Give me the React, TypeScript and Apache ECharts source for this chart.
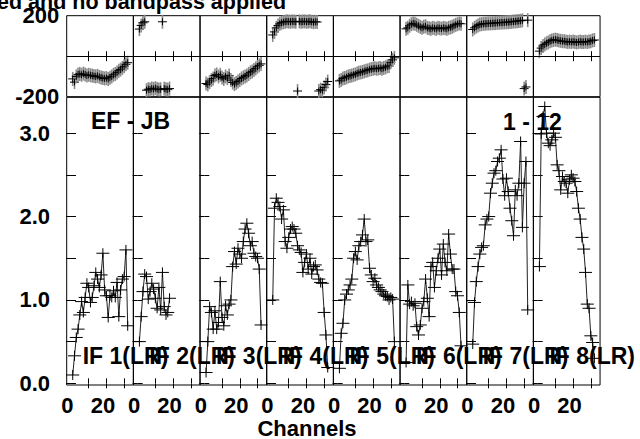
import React, { useEffect, useRef } from 'react';
import * as echarts from 'echarts';

// ---------- data ----------
const channels: number[] = [1, 2, 3, 4, 5, 6, 7, 8, 9, 10, 11, 12, 13, 14, 15, 16, 17, 18, 19, 20, 21, 22, 23, 24, 25, 26, 27, 28, 29, 30, 31, 32];

const ifLabels: string[] = ['IF 1(LR)', 'IF 2(LR)', 'IF 3(LR)', 'IF 4(LR)', 'IF 5(LR)', 'IF 6(LR)', 'IF 7(LR)', 'IF 8(LR)'];

const amp1 = [0.10, 0.33, 0.55, 0.65, 0.82, 0.98, 0.85, 1.03, 1.20, 1.15, 0.97, 1.03, 1.17, 1.33, 1.25, 1.15, 1.30, 1.56, 1.12, 1.05, 0.79, 1.05, 1.03, 1.11, 1.03, 1.21, 0.80, 1.12, 1.25, 1.28, 1.60, 0.69];
const amp2 = [0.50, 0.80, 1.10, 1.31, 1.28, 1.01, 1.10, 1.20, 1.13, 1.02, 0.90, 1.15, 0.88, 1.33, 0.92, 0.82, 0.85, 1.02];
const amp3 = [0.13, 0.50, 0.92, 0.85, 0.65, 0.87, 0.65, 0.73, 1.22, 0.79, 0.69, 0.93, 0.82, 0.95, 1.00, 1.40, 1.58, 1.43, 1.62, 1.55, 1.50, 1.70, 1.85, 1.92, 1.80, 1.65, 1.70, 1.56, 1.52, 1.50, 1.37, 0.70];
const amp4 = [1.00, 2.10, 2.22, 2.17, 2.12, 1.97, 2.08, 1.70, 1.62, 1.75, 1.85, 1.88, 1.85, 1.80, 1.65, 1.60, 1.57, 1.33, 1.45, 1.55, 1.37, 1.50, 1.31, 1.40, 1.42, 1.36, 1.25, 1.21, 1.20, 0.85, 0.58, 0.19];
const amp5 = [0.18, 0.60, 0.72, 1.00, 1.07, 1.12, 1.18, 1.25, 1.50, 1.58, 1.48, 1.65, 1.70, 1.78, 1.97, 1.70, 1.72, 1.38, 1.30, 1.22, 1.26, 1.18, 1.15, 1.12, 1.10, 1.07, 1.05, 1.04, 1.00, 1.03, 1.01, 0.50];
const amp6 = [0.25, 1.18, 0.95, 0.98, 0.93, 0.96, 0.68, 0.58, 0.70, 0.90, 0.98, 1.25, 1.02, 0.80, 1.40, 1.45, 1.15, 1.35, 1.50, 1.61, 1.30, 1.67, 1.45, 1.35, 1.79, 1.55, 1.37, 1.37, 1.10, 1.05, 0.85, 0.45];
const amp7 = [0.47, 0.97, 1.22, 1.40, 1.55, 1.63, 1.65, 1.90, 1.97, 2.00, 2.28, 2.40, 2.52, 2.55, 2.66, 2.70, 2.80, 2.45, 2.25, 2.46, 2.30, 2.10, 1.95, 1.77, 2.32, 2.25, 2.40, 2.90, 1.87, 2.40, 2.66, 0.88];
const amp8 = [1.40, 2.99, 3.20, 3.32, 3.00, 2.88, 2.85, 2.92, 3.00, 2.95, 2.62, 2.55, 2.32, 2.48, 2.42, 2.40, 2.28, 2.44, 2.50, 2.46, 2.42, 2.30, 2.10, 1.97, 1.75, 1.61, 1.33, 0.95, 0.90, 0.57, 0.49, 0.30];

const phase1 = [-112, -128, -100, -90, -88, -92, -86, -90, -95, -92, -94, -96, -98, -100, -97, -102, -105, -108, -110, -108, -112, -106, -100, -92, -88, -80, -72, -66, -58, -50, -40, -32];
const phase2 = [134, 152, 165, 170, -168, -163, -165, -160, -162, -158, -162, -165, -163, 170, -160, -163, -165, -160];
const phase3 = [-135, -140, -128, -118, -110, -95, -90, -100, -92, -105, -112, -100, -108, -95, -118, -130, -138, -132, -125, -118, -110, -105, -100, -95, -88, -80, -75, -68, -60, -52, -45, -38];
const phase4 = [105, 120, 140, 152, 160, 165, 168, 170, 172, 171, 170, 172, 171, 170, -172, 172, 170, 171, 172, 170, 171, 172, 170, 168, 170, 169, -172, -165, -168, -155, -140, -125];
const phase5 = [-122, -118, -110, -108, -104, -100, -98, -95, -92, -90, -85, -82, -80, -78, -75, -72, -70, -66, -64, -62, -60, -62, -60, -58, -62, -58, -55, -50, -48, -30, -18, -8];
const phase6 = [135, 140, 150, 158, 162, 160, 155, 150, 145, 140, 145, 148, 140, 138, 135, 140, 138, 135, 140, 138, 136, 140, 138, 135, 140, 142, 145, 150, 155, 158, 162, 160];
const phase7 = [132, 140, 146, 152, 156, 158, 160, 160, 161, 162, 162, 163, 163, 164, 165, 165, 166, 166, 167, 168, 168, 169, 170, 171, 172, 173, 174, 175, 177, -160, -152, 178];
const phase8 = [25, 40, 50, 58, 64, 68, 74, 78, 80, 82, 80, 78, 76, 74, 74, 72, 70, 72, 70, 72, 70, 68, 70, 72, 70, 70, 72, 70, 72, 74, 78, 80];

const ampSeries: number[][] = [amp1, amp2, amp3, amp4, amp5, amp6, amp7, amp8];
const phaseSeries: number[][] = [phase1, phase2, phase3, phase4, phase5, phase6, phase7, phase8];

const ampTicks = [0, 0.5, 1, 1.5, 2, 2.5, 3];
const ampTickLabels = [0, 1, 2, 3];
const phaseTickLabels = [-200, 200];
const chanTicks = [10, 20, 30];
const chanTickLabels = [0, 20];

const titleText = 'ed and no bandpass applied';
const baselineText = 'EF - JB';
const timeText = '1 - 12';
const xAxisName = 'Channels';

// ---------- layout / style ----------
const FONT = "'Liberation Sans', Arial, Helvetica, sans-serif";
const PANEL_LEFT = 66.7;
const PANEL_W = 66.67;
const AMP_TOP = 97.3;
const AMP_H = 287.7;
const PH_TOP = 15.7;
const PH_H = 81;
const X_MIN = -2.4;
const X_MAX = 35.2;

function ampCross(_params: any, api: any) {
  const p = api.coord([api.value(0), api.value(1)]);
  return {
    type: 'group',
    children: [
      { type: 'line', shape: { x1: p[0] - 6.5, y1: p[1], x2: p[0] + 6.5, y2: p[1] }, style: { stroke: '#000', lineWidth: 1 } },
      { type: 'line', shape: { x1: p[0], y1: p[1] - 5, x2: p[0], y2: p[1] + 5 }, style: { stroke: '#000', lineWidth: 1 } },
    ],
  };
}

function phaseCross(_params: any, api: any) {
  const p = api.coord([api.value(0), api.value(1)]);
  return {
    type: 'group',
    children: [
      { type: 'line', shape: { x1: p[0], y1: p[1] - 7, x2: p[0], y2: p[1] + 7 }, style: { stroke: '#8a8a8a', lineWidth: 1.6 } },
      { type: 'line', shape: { x1: p[0] - 4.5, y1: p[1], x2: p[0] + 4.5, y2: p[1] }, style: { stroke: '#000', lineWidth: 1 } },
      { type: 'line', shape: { x1: p[0], y1: p[1] - 3.5, x2: p[0], y2: p[1] + 3.5 }, style: { stroke: '#000', lineWidth: 1 } },
    ],
  };
}

function buildOption() {
  const grid: any[] = [];
  const xAxis: any[] = [];
  const yAxis: any[] = [];
  const series: any[] = [];
  const labelStyle = { color: '#000', fontFamily: FONT, fontWeight: 'bold', fontSize: 22 };

  for (let g = 0; g < 16; g++) {
    const i = g % 8;
    const isAmp = g < 8;
    grid.push({
      left: PANEL_LEFT + i * PANEL_W,
      top: isAmp ? AMP_TOP : PH_TOP,
      width: PANEL_W,
      height: isAmp ? AMP_H : PH_H,
      show: true,
      borderColor: '#000',
      borderWidth: 1,
      backgroundColor: 'transparent',
    });
    const xBase = {
      type: 'value',
      gridIndex: g,
      min: X_MIN,
      max: X_MAX,
      axisLine: { show: false },
      splitLine: { show: false },
      axisTick: { show: true, inside: true, length: 5, customValues: chanTicks, lineStyle: { color: '#000', width: 1 } },
    };
    xAxis.push({
      ...xBase,
      position: 'bottom',
      axisLabel: {
        show: isAmp,
        customValues: chanTickLabels,
        formatter: (v: number) => String(v),
        margin: 9,
        padding: [0, 7, 0, 0],
        ...labelStyle,
      },
    });
    xAxis.push({ ...xBase, position: 'top', axisLabel: { show: false } });

    if (isAmp) {
      const yBase = {
        type: 'value',
        gridIndex: g,
        min: -0.02,
        max: 3.43,
        axisLine: { show: false },
        splitLine: { show: false },
        axisTick: { show: true, inside: true, length: 5, customValues: ampTicks, lineStyle: { color: '#000', width: 1 } },
      };
      yAxis.push({
        ...yBase,
        position: 'left',
        axisLabel: {
          show: i === 0,
          customValues: ampTickLabels,
          formatter: (v: number) => v.toFixed(1),
          margin: 16.7,
          ...labelStyle,
        },
      });
      yAxis.push({ ...yBase, position: 'right', axisLabel: { show: false } });
    } else {
      const yBase = {
        type: 'value',
        gridIndex: g,
        min: -200,
        max: 200,
        axisLine: { show: false },
        splitLine: { show: false },
        axisTick: { show: false },
      };
      yAxis.push({
        ...yBase,
        position: 'left',
        axisLabel: {
          show: i === 0,
          customValues: phaseTickLabels,
          formatter: (v: number) => String(v),
          margin: 7.4,
          ...labelStyle,
        },
      });
      yAxis.push({ ...yBase, position: 'right', axisLabel: { show: false } });
    }
  }

  for (let i = 0; i < 8; i++) {
    const amp = ampSeries[i];
    const ph = phaseSeries[i];
    const ampData = amp.map((v, k) => [channels[k], v]);
    const phData = ph.map((v, k) => [channels[k], v]);
    series.push({
      type: 'line',
      xAxisIndex: 2 * i,
      yAxisIndex: 2 * i,
      data: ampData,
      symbol: 'none',
      lineStyle: { color: '#222', width: 1 },
      silent: true,
      z: 2,
    });
    series.push({
      type: 'custom',
      xAxisIndex: 2 * i,
      yAxisIndex: 2 * i,
      data: ampData,
      renderItem: ampCross,
      silent: true,
      z: 3,
    });
    const pg = 8 + i;
    series.push({
      type: 'line',
      xAxisIndex: 2 * pg,
      yAxisIndex: 2 * pg,
      data: [],
      silent: true,
      markLine: {
        silent: true,
        symbol: 'none',
        label: { show: false },
        lineStyle: { color: '#000', width: 1, type: 'solid' },
        data: [{ yAxis: 0 }],
      },
    });
    series.push({
      type: 'custom',
      xAxisIndex: 2 * pg,
      yAxisIndex: 2 * pg,
      data: phData,
      renderItem: phaseCross,
      silent: true,
      z: 3,
    });
  }

  const bold = { fill: '#000', fontFamily: FONT, fontWeight: 'bold' };
  const graphic: any[] = [
    { type: 'text', x: -3, y: 2, style: { ...bold, text: titleText, fontSize: 21.5, verticalAlign: 'middle', align: 'left' }, z: 10 },
    { type: 'text', x: 91, y: 121, style: { ...bold, text: baselineText, fontSize: 23, verticalAlign: 'middle', align: 'left' }, z: 10 },
    { type: 'text', x: 503, y: 122, style: { ...bold, text: timeText, fontSize: 23, verticalAlign: 'middle', align: 'left' }, z: 10 },
    { type: 'text', x: 307, y: 428, style: { ...bold, text: xAxisName, fontSize: 22, verticalAlign: 'middle', align: 'center' }, z: 10 },
  ];
  ifLabels.forEach((t, i) => {
    graphic.push({
      type: 'text',
      x: PANEL_LEFT + i * PANEL_W + 16,
      y: 356,
      style: { ...bold, text: t, fontSize: 23, verticalAlign: 'middle', align: 'left' },
      z: 10,
    });
  });

  return {
    animation: false,
    backgroundColor: '#fff',
    grid,
    xAxis,
    yAxis,
    series,
    graphic,
  };
}

export default function App() {
  const ref = useRef<HTMLDivElement>(null);
  useEffect(() => {
    if (!ref.current) return;
    const chart = echarts.init(ref.current, undefined, { renderer: 'svg' });
    chart.setOption(buildOption() as any);
    return () => chart.dispose();
  }, []);
  return (
    <div
      ref={ref}
      style={{ position: 'absolute', left: 0, top: 0, width: 640, height: 439, background: '#fff' }}
    />
  );
}
